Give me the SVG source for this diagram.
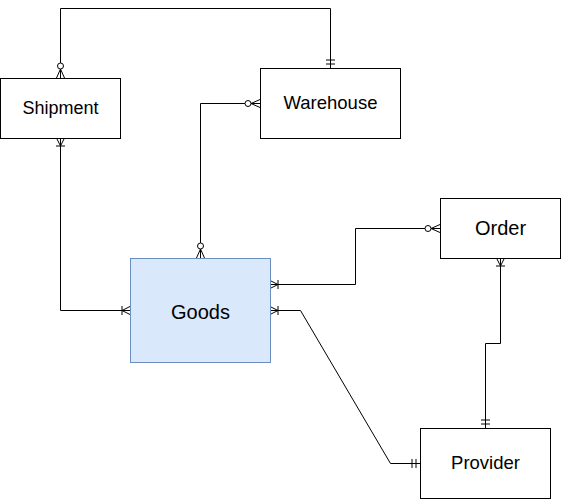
<svg xmlns="http://www.w3.org/2000/svg" width="561" height="499" viewBox="0 0 561 499">
<style>
.ent{fill:#ffffff;stroke:#000000;stroke-width:1}
.hl{fill:#dae8fc;stroke:#6c8ebf;stroke-width:1}
.lbl{font-family:"Liberation Sans",Arial,sans-serif;fill:#000000;text-anchor:middle}
.edge{fill:none;stroke:#000000;stroke-width:1}
.mk{fill:none;stroke:#000000;stroke-width:1}
</style>
<defs>
<marker id="zeroMany" markerUnits="userSpaceOnUse" orient="auto-start-reverse" markerWidth="20" markerHeight="12" viewBox="-17 -6 20 12" refX="0" refY="0" overflow="visible">
<path class="mk" d="M-9 0L0 -4M-9 0L0 0M-9 0L0 4"/>
<circle cx="-12" cy="0" r="3" fill="#ffffff" stroke="#000000" stroke-width="1"/>
</marker>
<marker id="oneMany" markerUnits="userSpaceOnUse" orient="auto-start-reverse" markerWidth="20" markerHeight="12" viewBox="-17 -6 20 12" refX="0" refY="0" overflow="visible">
<path class="mk" d="M-8 0L0 -4M-8 0L0 0M-8 0L0 4M-8 -4.5V4.5"/>
</marker>
<marker id="mandOne" markerUnits="userSpaceOnUse" orient="auto-start-reverse" markerWidth="20" markerHeight="12" viewBox="-17 -6 20 12" refX="0" refY="0" overflow="visible">
<path class="mk" d="M-4 -4.5V4.5M-8 -4.5V4.5"/>
</marker>
</defs>
<g id="connectors">
<path id="e1" class="edge" d="M60.5 78V8.5H330.5V68" marker-start="url(#zeroMany)" marker-end="url(#mandOne)"/>
<path id="e2" class="edge" d="M260 103.5H200.5V258" marker-start="url(#zeroMany)" marker-end="url(#zeroMany)"/>
<path id="e3" class="edge" d="M60.5 138V310.5H130" marker-start="url(#oneMany)" marker-end="url(#oneMany)"/>
<path id="e4" class="edge" d="M270 284.5H355.5V228.5H440" marker-start="url(#oneMany)" marker-end="url(#zeroMany)"/>
<path id="e5" class="edge" d="M270 310.5H300.5L390.5 463.5H420" marker-start="url(#oneMany)" marker-end="url(#mandOne)"/>
<path id="e6" class="edge" d="M500.5 258V343.5H485.5V428" marker-start="url(#oneMany)" marker-end="url(#mandOne)"/>
</g>
<g id="shipment">
<rect class="ent" x="0.5" y="78.5" width="120" height="60"/>
<text class="lbl" x="60.5" y="113.5" font-size="18">Shipment</text>
</g>
<g id="warehouse">
<rect class="ent" x="260.5" y="68.5" width="140" height="70"/>
<text class="lbl" x="330.5" y="108.5" font-size="18.5">Warehouse</text>
</g>
<g id="goods">
<rect class="hl" x="130.5" y="258.5" width="140" height="104"/>
<text class="lbl" x="200.5" y="319" font-size="20">Goods</text>
</g>
<g id="order">
<rect class="ent" x="440.5" y="198.5" width="120" height="60"/>
<text class="lbl" x="500.5" y="235" font-size="20">Order</text>
</g>
<g id="provider">
<rect class="ent" x="420.5" y="428.5" width="130" height="70"/>
<text class="lbl" x="485.5" y="468.5" font-size="18.5">Provider</text>
</g>
</svg>
